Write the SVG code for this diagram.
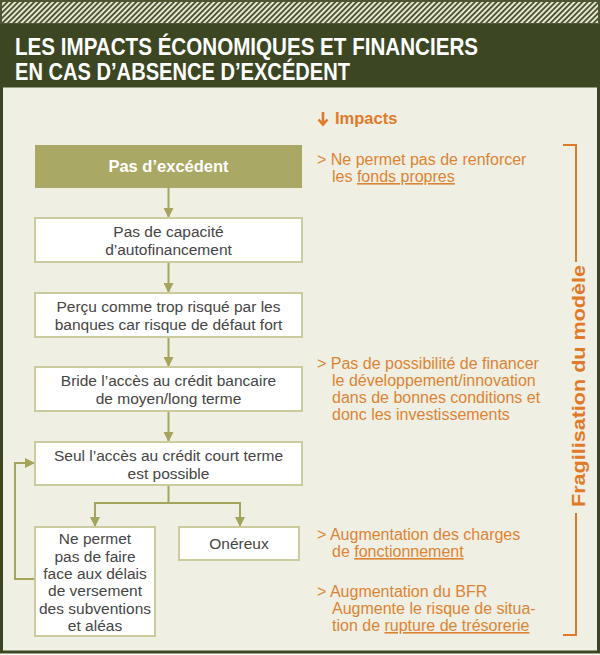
<svg xmlns="http://www.w3.org/2000/svg" width="600" height="655" viewBox="0 0 600 655">
<defs>
<pattern id="hatch" width="3.8" height="3.8" patternUnits="userSpaceOnUse" patternTransform="rotate(45)">
<rect width="3.8" height="3.8" fill="#4d5532"/>
<rect width="1.9" height="3.8" fill="#e8e8d4"/>
</pattern>
<marker id="ah" viewBox="0 0 10 10" refX="10" refY="5" markerWidth="5" markerHeight="5" markerUnits="strokeWidth" orient="auto">
<path d="M0,0 L10,5 L0,10 Z" fill="#a5a45c"/>
</marker>
<style>
.box{fill:#ffffff;stroke:#cbcb9e;stroke-width:2}
.bt{font-family:"Liberation Sans",Arial,sans-serif;font-size:15.5px;fill:#454545;text-anchor:middle}
.conn{fill:none;stroke:#a5a45c;stroke-width:2}
.imp{font-family:"Liberation Sans",Arial,sans-serif;font-size:16px;fill:#dc8434}
.or{stroke:#e07a28;stroke-width:2;fill:none}
</style>
</defs>
<rect x="0" y="0" width="600" height="655" fill="#ffffff"/>
<rect x="0" y="0" width="600" height="24" fill="url(#hatch)"/>
<rect x="1" y="1" width="598" height="23" fill="none" stroke="#4d5532" stroke-width="2"/>
<rect x="0" y="24" width="600" height="62" fill="#3d4623"/>
<rect x="1.5" y="86" width="597" height="566" fill="#f0efe3" stroke="#3d4623" stroke-width="3"/>
<g id="title" font-family="'Liberation Sans',Arial,sans-serif" font-weight="bold" font-size="24" fill="#ffffff">
<text x="15" y="55" textLength="463" lengthAdjust="spacingAndGlyphs">LES IMPACTS ÉCONOMIQUES ET FINANCIERS</text>
<text x="15" y="80" textLength="335" lengthAdjust="spacingAndGlyphs">EN CAS D’ABSENCE D’EXCÉDENT</text>
</g>
<g id="connectors">
<line class="conn" x1="168.5" y1="188" x2="168.5" y2="218" marker-end="url(#ah)"/>
<line class="conn" x1="168.5" y1="262" x2="168.5" y2="293" marker-end="url(#ah)"/>
<line class="conn" x1="168.5" y1="337" x2="168.5" y2="367" marker-end="url(#ah)"/>
<line class="conn" x1="168.5" y1="411" x2="168.5" y2="442" marker-end="url(#ah)"/>
<polyline class="conn" points="168.5,485 168.5,503"/>
<polyline class="conn" points="95,527 95,503 240,503 240,527"/>
<line class="conn" x1="95" y1="510" x2="95" y2="527" marker-end="url(#ah)"/>
<line class="conn" x1="240" y1="510" x2="240" y2="527" marker-end="url(#ah)"/>
<polyline class="conn" points="35,579 15,579 15,463 35,463" marker-end="url(#ah)"/>
</g>
<g id="n1">
<rect x="35" y="145" width="267" height="43" fill="#aaa865"/>
<text x="168.5" y="172" font-family="'Liberation Sans',Arial,sans-serif" font-weight="bold" font-size="16.5" fill="#ffffff" text-anchor="middle">Pas d’excédent</text>
</g>
<g id="n2">
<rect class="box" x="35" y="218" width="267" height="44"/>
<text class="bt" x="168.5" y="237">Pas de capacité</text>
<text class="bt" x="168.5" y="255">d’autofinancement</text>
</g>
<g id="n3">
<rect class="box" x="35" y="293" width="267" height="44"/>
<text class="bt" x="168.5" y="312">Perçu comme trop risqué par les</text>
<text class="bt" x="168.5" y="330">banques car risque de défaut fort</text>
</g>
<g id="n4">
<rect class="box" x="35" y="367" width="267" height="44"/>
<text class="bt" x="168.5" y="386">Bride l’accès au crédit bancaire</text>
<text class="bt" x="168.5" y="404">de moyen/long terme</text>
</g>
<g id="n5">
<rect class="box" x="35" y="442" width="267" height="43"/>
<text class="bt" x="168.5" y="461">Seul l’accès au crédit court terme</text>
<text class="bt" x="168.5" y="479">est possible</text>
</g>
<g id="n6">
<rect class="box" x="35" y="527" width="120" height="109"/>
<text class="bt" x="95" y="544">Ne permet</text>
<text class="bt" x="95" y="561.5">pas de faire</text>
<text class="bt" x="95" y="579">face aux délais</text>
<text class="bt" x="95" y="596">de versement</text>
<text class="bt" x="95" y="613.5">des subventions</text>
<text class="bt" x="95" y="631">et aléas</text>
</g>
<g id="n7">
<rect class="box" x="179" y="527" width="120" height="33"/>
<text class="bt" x="239" y="549">Onéreux</text>
</g>
<g id="impacts">
<path d="M323,112 V124 M318.5,119.5 L323,124.5 L327.5,119.5" stroke="#e07a28" stroke-width="2.6" fill="none"/>
<text x="335" y="124" font-family="'Liberation Sans',Arial,sans-serif" font-weight="bold" font-size="16.5" fill="#e07a28">Impacts</text>
<text class="imp" x="317" y="165">&gt; Ne permet pas de renforcer</text>
<text class="imp" x="332" y="182">les <tspan text-decoration="underline">fonds propres</tspan></text>
<text class="imp" x="317" y="369">&gt; Pas de possibilité de financer</text>
<text class="imp" x="332" y="386">le développement/innovation</text>
<text class="imp" x="332" y="403">dans de bonnes conditions et</text>
<text class="imp" x="332" y="420">donc les investissements</text>
<text class="imp" x="317" y="540">&gt; Augmentation des charges</text>
<text class="imp" x="332" y="557">de <tspan text-decoration="underline">fonctionnement</tspan></text>
<text class="imp" x="317" y="597">&gt; Augmentation du BFR</text>
<text class="imp" x="332" y="614">Augmente le risque de situa-</text>
<text class="imp" x="332" y="631">tion de <tspan text-decoration="underline">rupture de trésorerie</tspan></text>
</g>
<g id="bracket">
<polyline class="or" points="563,145 576,145 576,262"/>
<polyline class="or" points="576,513 576,635 563,635"/>
<text transform="translate(585,386) rotate(-90)" x="0" y="0" text-anchor="middle" font-family="'Liberation Sans',Arial,sans-serif" font-weight="bold" font-size="18" fill="#e07a28" textLength="242" lengthAdjust="spacingAndGlyphs">Fragilisation du modèle</text>
</g>
</svg>
